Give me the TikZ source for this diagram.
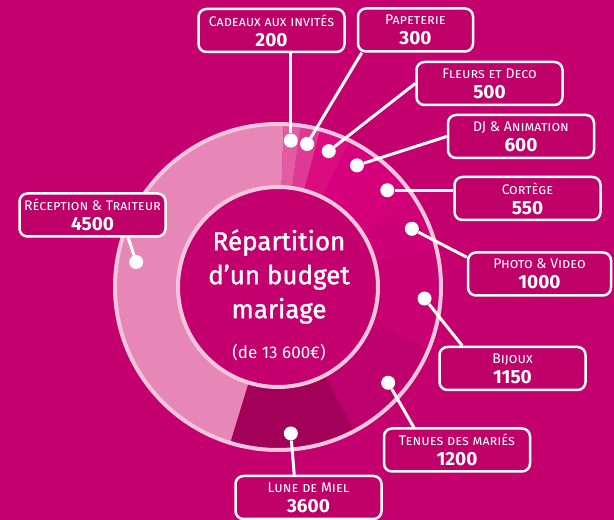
\documentclass[tikz,border=0pt]{standalone}
\usepackage{fontspec}
\setmainfont{Fira Sans}
\definecolor{fond}{HTML}{C3006E}
\definecolor{cadre}{HTML}{BF0069}
\definecolor{anneau}{HTML}{F3C6DE}
\definecolor{sRec}{HTML}{E787B7}
\definecolor{sCad}{HTML}{E35BA3}
\definecolor{sPap}{HTML}{DD3A93}
\definecolor{sFle}{HTML}{DA0C80}
\definecolor{sDJ}{HTML}{D6007C}
\definecolor{sCor}{HTML}{D3007A}
\definecolor{sPho}{HTML}{CD0076}
\definecolor{sBij}{HTML}{C80072}
\definecolor{sTen}{HTML}{BE006C}
\definecolor{sLun}{HTML}{A30059}
\newcommand{\poste}[2]{{\scshape #1}\\[4pt]{\fontsize{19}{21}\selectfont\bfseries #2}}
\newcommand{\gras}{\addfontfeatures{FakeBold=1.3}}

\begin{document}
\begin{tikzpicture}[x=1pt, y=1pt,
    dot/.style={circle, fill=white, inner sep=0, minimum size=14},
    link/.style={white, line width=3},
    ring/.style={anneau, line width=4},
    budget/.style={draw=white, line width=2.5, rounded corners=8, fill=cadre,
      minimum width=146, minimum height=43, align=center, inner sep=0,
      text=white, font=\fontsize{14}{16}\selectfont}]
  \fill[fond] (0,0) rectangle (614,520);
  \useasboundingbox (0,0) rectangle (614,520);
  \begin{scope}[shift={(278,233)}]
    \foreach \a/\b/\c in {88/253/sRec, 253/298/sLun, 298/338/sTen, -22/14/sBij,
        14/33/sPho, 33/51/sCor, 51/64/sDJ, 64/75/sFle, 75/82/sPap, 82/88/sCad} {
      \fill[\c] (\a:163) arc[start angle=\a, end angle=\b, radius=163]
        -- (\b:100) arc[start angle=\b, end angle=\a, radius=100] -- cycle;
    }
    \draw[ring] (0,0) circle[radius=163];
    \draw[ring] (0,0) circle[radius=100];
    \node[dot] (dCad) at (85:147) {};
    \node[dot] (dPap) at (78.5:146) {};
    \node[dot] (dFle) at (69.5:145) {};
    \node[dot] (dDJ) at (57:145) {};
    \node[dot] (dCor) at (41.5:146) {};
    \node[dot] (dPho) at (23.5:146) {};
    \node[dot] (dBij) at (-4.5:147) {};
    \node[dot] (dTen) at (-41:146) {};
    \node[dot] (dLun) at (-85:147) {};
    \node[dot] (dRec) at (170:144) {};
  \end{scope}
  \node[align=center, text=white, font=\fontsize{26}{34}\selectfont] (titre) at (279,225)
    {{\gras Répartition}\\{\gras d’un budget}\\{\gras mariage}\\[6pt]{\fontsize{17}{20}\selectfont(de 13~600€)}};

  \node[budget] (bCad) at (271.5,489.5) {\poste{Cadeaux aux invités}{200}};
  \node[budget, minimum width=115] (bPap) at (415.5,490) {\poste{Papeterie}{300}};
  \node[budget] (bFle) at (489.5,436.5) {\poste{Fleurs et Deco}{500}};
  \node[budget] (bDJ) at (521,383.5) {\poste{DJ \& Animation}{600}};
  \node[budget] (bCor) at (527.5,321.5) {\poste{Cortège}{550}};
  \node[budget, minimum width=143] (bPho) at (539.5,246) {\poste{Photo \& Video}{1000}};
  \node[budget] (bBij) at (512.5,151.5) {\poste{Bijoux}{1150}};
  \node[budget] (bTen) at (457,70) {\poste{Tenues des mariés}{1200}};
  \node[budget] (bLun) at (308.5,22.5) {\poste{Lune de Miel}{3600}};
  \node[budget] (bRec) at (92.5,305) {\poste{Réception \& Traiteur}{4500}};

  \draw[link] (dCad) -- (dCad |- bCad.south);
  \draw[link] (dPap) -- ([xshift=5]bPap.south west);
  \draw[link] (dFle) -- (bFle.west);
  \draw[link] (dDJ) -- (bDJ.west);
  \draw[link] (dCor) -- (dCor -| bCor.west);
  \draw[link] (dPho) -- ([yshift=-6]bPho.north west);
  \draw[link] (dBij) -- ([xshift=24]bBij.north west);
  \draw[link] (dTen) -- ([xshift=31]bTen.north west);
  \draw[link] (dLun) -- ([xshift=60]bLun.north west);
  \draw[link] (dRec) -- ([xshift=110]bRec.south west);
\end{tikzpicture}
\end{document}
